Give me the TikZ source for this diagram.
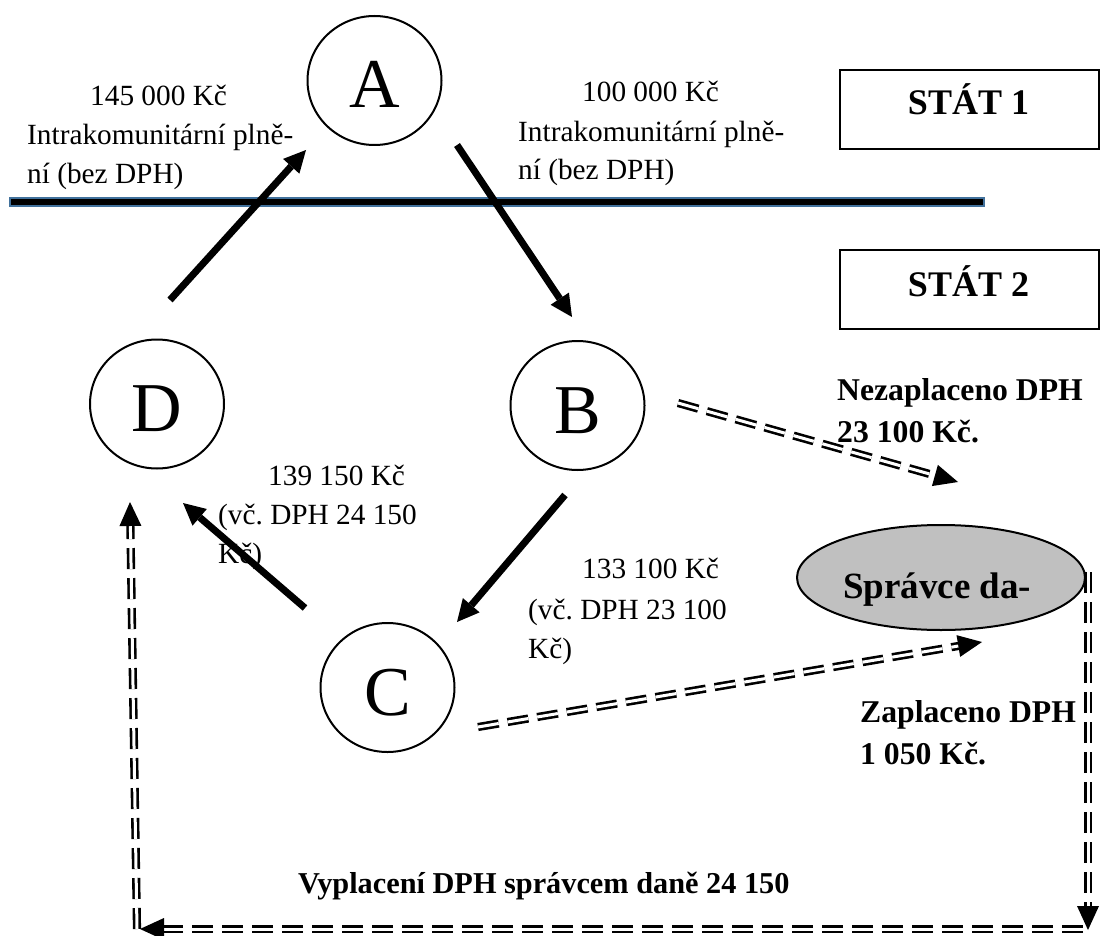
\documentclass[tikz,border=0pt]{standalone}
\usepackage{fontspec}
\setmainfont{Liberation Serif}
\usetikzlibrary{arrows.meta,calc,shapes.geometric}
\definecolor{sepblue}{RGB}{65,113,156}
\definecolor{taxgray}{RGB}{192,192,192}
\frenchspacing
\begin{document}
\begin{tikzpicture}[x=1pt,y=-1pt,
  reg/.style={anchor=base west, inner sep=0pt, font=\fontsize{29.3}{35}\selectfont},
  bld/.style={anchor=base west, inner sep=0pt, font=\fontsize{31.7}{38}\selectfont\bfseries},
  party/.style={draw, line width=2pt, ellipse, minimum width=134pt, minimum height=129pt,
    text height=55pt, text depth=0pt, inner sep=0pt, font=\fontsize{70}{80}\selectfont},
  flow/.style={line width=7pt, -{Triangle[length=22pt,width=22pt,line width=0pt]}},
  dd/.style={draw, line width=2.6pt, double distance=3pt, dash pattern=on 21pt off 9pt},
  ddtip/.style={-{Triangle[length=24pt,width=22pt,line width=0pt]}, line width=0.4pt},
  statebox/.style={draw, line width=2pt, inner sep=0pt, anchor=north west,
    minimum width=259pt, minimum height=79pt},
  statetext/.style={anchor=base, inner sep=0pt, font=\fontsize{36}{40}\selectfont\bfseries}
]
\useasboundingbox (0,0) rectangle (1100,936);

% separator
\filldraw[draw=sepblue, fill=black, line width=1.5pt] (10,198) rectangle (984,206);

% state boxes
\node[statebox] (box1) at (839,69) {};
\node[statetext] (st1) at (968.5,115) {STÁT 1};
\node[statebox] (box2) at (839,249) {};
\node[statetext] (st2) at (968.5,296) {STÁT 2};

% parties
\node[party] (A) at (374.5,80.5) {A};
\node[party] (B) at (577.5,405.5) {B};
\node[party] (C) at (387.5,687.5) {C};
\node[party] (D) at (157,404) {D};

% tax office
\node[draw, line width=2pt, ellipse, fill=taxgray, minimum width=288pt, minimum height=105pt, inner sep=0pt] (S) at (941,577.5) {};
\node[anchor=base west, inner sep=0pt, font=\fontsize{37}{40}\selectfont\bfseries] (Stext) at (843,598) {Správce da-};

% labels
\node[reg] (l1) at (90,106) {145 000 Kč};
\node[reg] (l2) at (27,145) {Intrakomunitární plně-};
\node[reg] (l3) at (27,184) {ní (bez DPH)};
\node[reg] (r1) at (582,102) {100 000 Kč};
\node[reg] (r2) at (518,142) {Intrakomunitární plně-};
\node[reg] (r3) at (518,180) {ní (bez DPH)};
\node[reg] (m1) at (268,485) {139 150 Kč};
\node[reg] (m2) at (218,524) {(vč. DPH 24 150};
\node[reg] (m3) at (218,563) {Kč)};
\node[reg] (n1) at (582,578) {133 100 Kč};
\node[reg] (n2) at (528,619) {(vč. DPH 23 100};
\node[reg] (n3) at (528,658) {Kč)};
\node[bld] (b1) at (837,400) {Nezaplaceno DPH};
\node[bld] (b2) at (837,442) {23 100 Kč.};
\node[bld] (z1) at (860,722) {Zaplaceno DPH};
\node[bld] (z2) at (860,764) {1 050 Kč.};
\node[bld, font=\fontsize{30.3}{36}\selectfont\bfseries] (v1) at (298,893) {Vyplacení DPH správcem daně 24 150};

% arrow end points
\coordinate (dA0) at (170,300); \coordinate (dA1) at (306,150);
\coordinate (aB0) at (457,145); \coordinate (aB1) at (572,317);
\coordinate (bC0) at (565,495); \coordinate (bC1) at (457,622);
\coordinate (cD0) at (305,608); \coordinate (cD1) at (183,503);

\coordinate (bS0) at (678,403); \coordinate (bS1) at (958,482);
\coordinate (cS0) at (478,727); \coordinate (cS1) at (982,642);
\coordinate (sR0) at (1088,572); \coordinate (sR1) at (1088,930);
\coordinate (bt0) at (1083,929); \coordinate (bt1) at (140,929);
\coordinate (lf0) at (137,929); \coordinate (lf1) at (130,502);

% solid flows
\draw[flow] (dA0) -- (dA1);
\draw[flow] (aB0) -- (aB1);
\draw[flow] (bC0) -- (bC1);
\draw[flow] (cD0) -- (cD1);

% double dashed flows
\foreach \s/\t in {bS0/bS1, cS0/cS1, sR0/sR1, bt0/bt1, lf0/lf1}{
  \draw[dd] (\s) -- ($(\t)!20pt!(\s)$);
  \draw[ddtip] ($(\t)!24pt!(\s)$) -- (\t);
}
\end{tikzpicture}
\end{document}
